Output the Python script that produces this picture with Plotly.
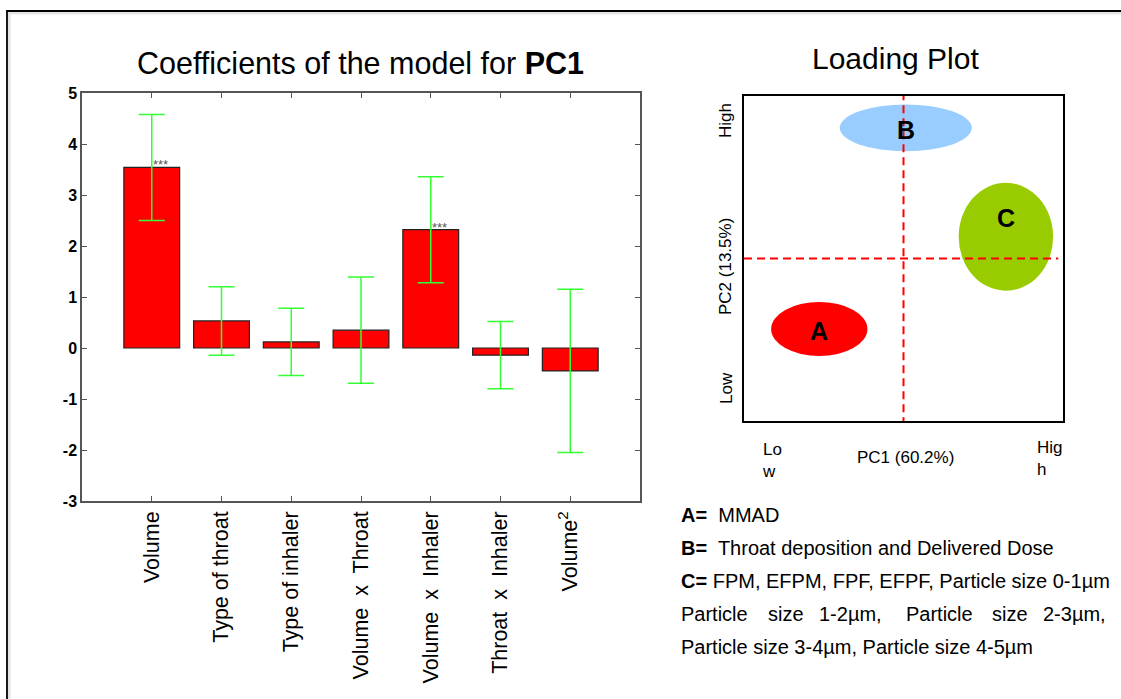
import plotly.graph_objects as go

# ---- model coefficients (PC1) ----
terms = ["Volume", "Type of throat", "Type of inhaler", "Volume\u00a0 x\u00a0 Throat",
         "Volume\u00a0 x\u00a0 Inhaler", "Throat\u00a0 x\u00a0 Inhaler", "Volume<sup>2</sup>"]
term_pos = [1, 2, 3, 4, 5, 6, 7]
coef = [3.54, 0.53, 0.12, 0.35, 2.32, -0.14, -0.45]
conf_int = [1.04, 0.67, 0.66, 1.04, 1.04, 0.66, 1.60]
signif = ["***", "", "", "", "***", "", ""]
y_ticks = [-3, -2, -1, 0, 1, 2, 3, 4, 5]
y_tick_text = ["-3", "-2", "-1", "0", "1", "2", "3", "4", "5"]

# ---- loading plot groups ----
groups = ["A", "B", "C"]
group_pc1 = [0.236, 0.507, 0.821]
group_pc2 = [0.283, 0.902, 0.567]
group_rx = [0.151, 0.207, 0.148]
group_ry = [0.083, 0.072, 0.166]
group_label_pc2 = [0.277, 0.895, 0.625]
pc1_split = 0.5
pc2_split = 0.5

legend_keys = ["A=", "B=", "C="]
legend_text = ["\u00a0 MMAD", "\u00a0 Throat deposition and Delivered Dose",
               " FPM, EFPM, FPF, EFPF, Particle size 0-1\u00b5m"]
wrap_words = ["Particle", "size", "1-2\u00b5m,", "Particle", "size", "2-3\u00b5m,"]
last_line = "Particle size 3-4\u00b5m, Particle size 4-5\u00b5m"

W, H = 1121, 699
FONT = "Liberation Sans, Arial, Helvetica, sans-serif"
group_colors = ["#ff0000", "#99ccff", "#99cc00"]


def px(x):
    return x / W


def py(y):
    return 1 - y / H


fig = go.Figure()

fig.add_trace(go.Bar(
    x=term_pos, y=coef, width=0.8,
    marker=dict(color="#ff0000", line=dict(color="#222222", width=1.2)),
    error_y=dict(type="data", array=conf_int, visible=True,
                 color="#33ff33", thickness=1.5, width=13),
    xaxis="x", yaxis="y", showlegend=False, hoverinfo="skip",
))

# invisible trace so the second axis pair is drawn
fig.add_trace(go.Scatter(x=[0, 1], y=[0, 1], mode="markers",
                         marker=dict(opacity=0), xaxis="x2", yaxis="y2",
                         showlegend=False, hoverinfo="skip"))

shapes = []
annotations = []

# outer frame with soft shadow
for off, col in [(3, "#f0f0f0"), (2, "#e4e4e4")]:
    shapes.append(dict(type="path", xref="paper", yref="paper",
                       path=f"M {px(7+off)},{py(720)} L {px(7+off)},{py(11+off)} L {px(1130)},{py(11+off)}",
                       line=dict(color=col, width=2)))
shapes.append(dict(type="path", xref="paper", yref="paper",
                   path=f"M {px(7)},{py(720)} L {px(7)},{py(11)} L {px(1130)},{py(11)}",
                   line=dict(color="#000000", width=1.8)))

# significance marks
for xp, v, s in zip(term_pos, coef, signif):
    if s:
        annotations.append(dict(x=xp, y=v, xref="x", yref="y", text=s, showarrow=False,
                                xshift=9, yanchor="bottom", yshift=-7,
                                font=dict(family=FONT, size=13, color="#555555")))

# loading ellipses
for g, cx, cy, rx, ry, ly, col in zip(groups, group_pc1, group_pc2, group_rx, group_ry,
                                      group_label_pc2, group_colors):
    shapes.append(dict(type="circle", xref="x2", yref="y2",
                       x0=cx - rx, x1=cx + rx, y0=cy - ry, y1=cy + ry,
                       fillcolor=col, line=dict(width=0), layer="below"))
    annotations.append(dict(x=cx, y=ly, xref="x2", yref="y2", text=f"<b>{g}</b>",
                            showarrow=False, yanchor="middle",
                            font=dict(family=FONT, size=25, color="#000000")))

# quadrant split lines
shapes.append(dict(type="line", xref="x2", yref="y2", x0=pc1_split, x1=pc1_split,
                   y0=-0.013, y1=1.0, line=dict(color="#ff0000", width=2, dash="8px,5px")))
shapes.append(dict(type="line", xref="x2", yref="y2", x0=0, x1=0.985,
                   y0=pc2_split, y1=pc2_split, line=dict(color="#ff0000", width=2, dash="8px,5px")))


def note(text, x, y, size, xanchor="center", **kw):
    annotations.append(dict(x=px(x), y=py(y), xref="paper", yref="paper", text=text,
                            showarrow=False, xanchor=xanchor, yanchor="middle",
                            font=dict(family=FONT, size=size, color="#000000"), **kw))


# titles
note("Coefficients of the model for <b>PC1</b>", 361, 63, 30.5)
note("Loading Plot", 895, 58, 30)

# loading plot axis labels
for txt, yy in [("High", 121), ("PC2 (13.5%)", 267), ("Low", 388)]:
    note(txt, 726, yy, 17, textangle=-90)
note("PC1 (60.2%)", 905, 457, 17)
note("Lo<br>w", 760, 460, 17, xanchor="left", align="left")
note("Hig<br>h", 1035, 458, 17, xanchor="left", align="left")

# group descriptions
for k, t, yy in zip(legend_keys, legend_text, [515, 548, 581]):
    note(f"<b>{k}</b>{t}", 679, yy, 20, xanchor="left")
for w, xx in zip(wrap_words, [679, 766, 817, 904, 990, 1041]):
    note(w, xx, 614, 20, xanchor="left")
note(last_line, 679, 647, 20, xanchor="left")

fig.update_layout(
    width=W, height=H, margin=dict(l=0, r=0, t=0, b=0, autoexpand=False),
    paper_bgcolor="#ffffff", plot_bgcolor="#ffffff",
    font=dict(family=FONT, color="#000000"),
    xaxis=dict(domain=[px(82), px(640)], range=[0, 8], tickvals=term_pos, ticktext=terms,
               tickangle=-90, ticks="inside", ticklen=5, tickcolor="#555555",
               showline=True, linecolor="#555555", linewidth=1.5, mirror="allticks",
               showgrid=False, zeroline=False, tickfont=dict(family=FONT, size=21.5),
               anchor="y", automargin=False),
    yaxis=dict(domain=[py(501), py(93)], range=[-3, 5], tickvals=y_ticks,
               ticktext=[f"<b>{t}</b>" for t in y_tick_text],
               ticks="inside", ticklen=5, tickcolor="#555555",
               showline=True, linecolor="#555555", linewidth=1.5, mirror="allticks",
               showgrid=False, zeroline=False,
               tickfont=dict(family=FONT, size=16), anchor="x", automargin=False),
    xaxis2=dict(domain=[px(744), px(1063)], range=[0, 1], showticklabels=False, ticks="",
                showline=True, linecolor="#000000", linewidth=2, mirror=True,
                showgrid=False, zeroline=False, anchor="y2", automargin=False),
    yaxis2=dict(domain=[py(421), py(96)], range=[0, 1], showticklabels=False, ticks="",
                showline=True, linecolor="#000000", linewidth=2, mirror=True,
                showgrid=False, zeroline=False, anchor="x2", automargin=False),
    shapes=shapes, annotations=annotations, bargap=0.2,
)

fig.write_html("out.html")
